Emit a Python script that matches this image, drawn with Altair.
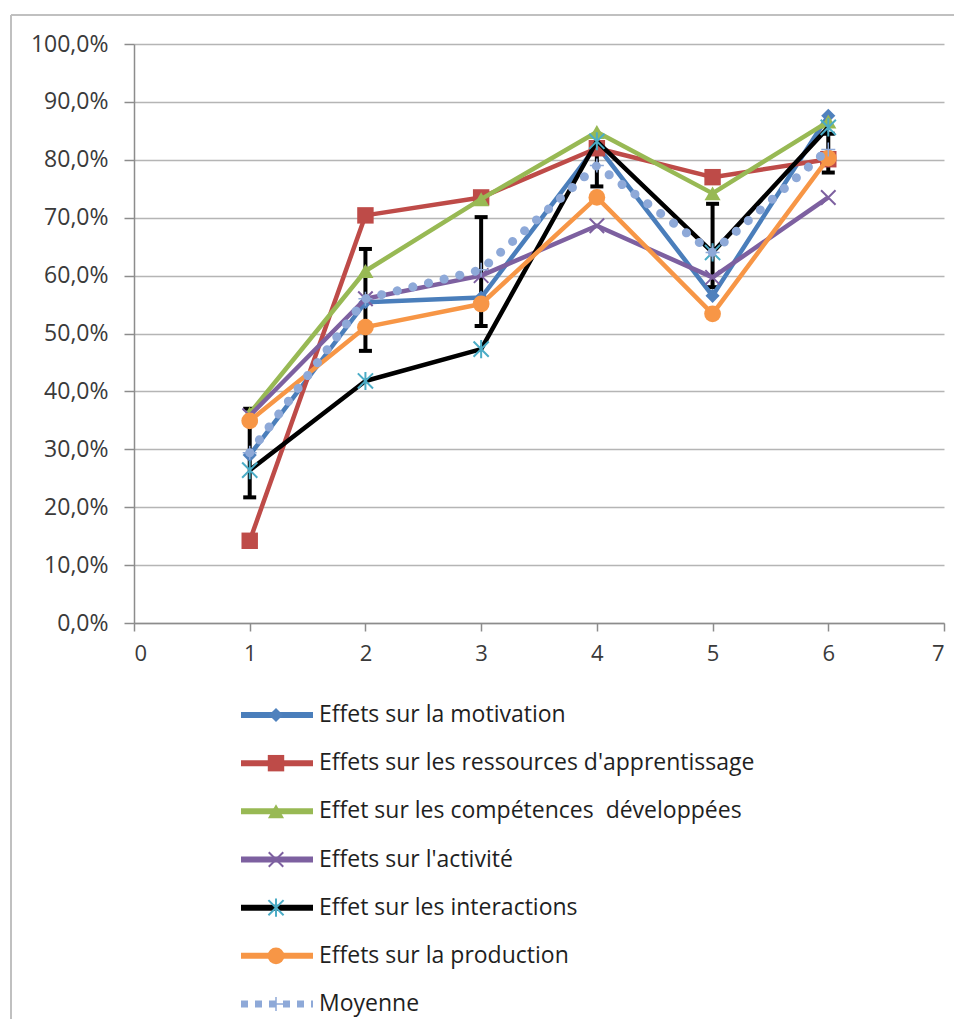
import altair as alt
import pandas as pd

# ---------------- data ----------------
x_vals = [1, 2, 3, 4, 5, 6]

series_names = [
    "Effets sur la motivation",
    "Effets sur les ressources d'apprentissage",
    "Effet sur les compétences\u00a0 développées",
    "Effets sur l'activité",
    "Effet sur les interactions",
    "Effets sur la production",
    "Moyenne",
]

motivation = [29.0, 55.4, 56.2, 82.5, 56.5, 87.6]
ressources = [14.2, 70.4, 73.5, 82.0, 77.0, 80.1]
competences = [36.2, 60.8, 73.2, 84.8, 74.2, 86.6]
activite = [35.8, 56.0, 60.0, 68.6, 59.7, 73.5]
interactions = [26.4, 41.8, 47.3, 83.2, 64.0, 85.6]
production = [34.9, 51.1, 55.1, 73.5, 53.4, 80.3]
moyenne = [29.4, 56.0, 61.0, 79.0, 64.0, 81.8]

err_low = [21.7, 47.0, 51.3, 75.4, 58.0, 77.8]
err_high = [37.0, 64.6, 70.1, 82.6, 72.4, 84.5]

y_ticks = [0, 10, 20, 30, 40, 50, 60, 70, 80, 90, 100]
x_ticks = [0, 1, 2, 3, 4, 5, 6, 7]

# ---------------- styles ----------------
FONT = "Open Sans"
X_PATH = "M-1,-1L1,1M-1,1L1,-1"
AST_PATH = "M-1,-1L1,1M-1,1L1,-1M0,-1.2L0,1.2"
PLUS_PATH = "M-1,0L1,0M0,-1L0,1"

styles = [
    dict(line="#4A7EBB", mk="#4F81BD", shape="diamond", filled=True, size=200, sw=0),
    dict(line="#BE4B48", mk="#BE4B48", shape="square", filled=True, size=270, sw=0),
    dict(line="#98B954", mk="#98B954", shape="triangle-up", filled=True, size=260, sw=0),
    dict(line="#7D60A0", mk="#7D60A0", shape=X_PATH, filled=False, size=210, sw=2),
    dict(line="#000000", mk="#4BACC6", shape=AST_PATH, filled=False, size=230, sw=2),
    dict(line="#F79646", mk="#F79646", shape="circle", filled=True, size=280, sw=0),
    dict(line="#8EA9D8", mk="#8EA9D8", shape=PLUS_PATH, filled=False, size=196, sw=1.5),
]

values_list = [motivation, ressources, competences, activite, interactions, production, moyenne]

W, H = 810, 579

x_enc_args = dict(
    scale=alt.Scale(domain=[0, 7], nice=False, zero=False),
    axis=alt.Axis(
        values=x_ticks, format="d", grid=False, title=None,
        tickSize=8, tickWidth=1.5, tickColor="#8C8C8C",
        domainColor="#8C8C8C", domainWidth=1.5,
        labelFont=FONT, labelFontSize=22, labelColor="#3A3A3A",
        labelPadding=12,
    ),
)
y_axis = alt.Axis(
    values=y_ticks, grid=True, title=None,
    labelExpr="replace(format(datum.value, '.1f'), '.', ',') + '%'",
    gridColor="#B5B5B5", gridWidth=1.5,
    tickSize=10, tickWidth=1.5, tickColor="#8C8C8C",
    domainColor="#8C8C8C", domainWidth=1.5,
    labelFont=FONT, labelFontSize=23, labelColor="#3A3A3A",
    labelPadding=16,
)
y_scale = alt.Scale(domain=[0, 100], nice=False, zero=True)

main_layers = []

# error bars (drawn first, under the series)
err_df = pd.DataFrame({"x": x_vals, "lo": err_low, "hi": err_high})
main_layers.append(
    alt.Chart(err_df).mark_rule(color="#000000", strokeWidth=4).encode(
        x=alt.X("x:Q", **x_enc_args),
        y=alt.Y("lo:Q", scale=y_scale, axis=y_axis),
        y2="hi:Q",
    )
)
for fld in ["lo", "hi"]:
    main_layers.append(
        alt.Chart(err_df).mark_tick(orient="horizontal", color="#000000",
                                     thickness=4, size=13, opacity=1).encode(
            x=alt.X("x:Q", **x_enc_args),
            y=alt.Y(f"{fld}:Q", scale=y_scale, axis=y_axis),
        )
    )

for name, vals, st in zip(series_names, values_list, styles):
    df = pd.DataFrame({"x": x_vals, "y": vals, "serie": name})
    if name == "Moyenne":
        line = alt.Chart(df).mark_line(color=st["line"], strokeWidth=9,
                                       strokeDash=[0.1, 16], strokeCap="round")
    else:
        line = alt.Chart(df).mark_line(color=st["line"], strokeWidth=4.5,
                                       strokeJoin="round")
    main_layers.append(line.encode(
        x=alt.X("x:Q", **x_enc_args),
        y=alt.Y("y:Q", scale=y_scale, axis=y_axis),
    ))
    if st["filled"]:
        pt = alt.Chart(df).mark_point(shape=st["shape"], filled=True, color=st["mk"],
                                      size=st["size"], opacity=1, strokeWidth=0)
    else:
        pt = alt.Chart(df).mark_point(shape=st["shape"], filled=False, color=st["mk"],
                                      size=st["size"], opacity=1, strokeWidth=st["sw"])
    main_layers.append(pt.encode(
        x=alt.X("x:Q", **x_enc_args),
        y=alt.Y("y:Q", scale=y_scale, axis=y_axis),
    ))

main = alt.layer(*main_layers)

# ---------------- legend (drawn below the plot) ----------------
leg_scale = alt.Scale(domain=[0, 6], range=[671, 960], nice=False, zero=False)
leg_df = pd.DataFrame({"idx": list(range(len(series_names))), "name": series_names})

legend_layers = []
for i, st in enumerate(styles):
    row = leg_df.iloc[[i]]
    if series_names[i] == "Moyenne":
        lmark = alt.Chart(row).mark_rule(color=st["line"], strokeWidth=7,
                                         strokeDash=[7, 7])
    else:
        lmark = alt.Chart(row).mark_rule(color=st["line"], strokeWidth=6)
    legend_layers.append(lmark.encode(
        x=alt.value(107), x2=alt.value(179),
        y=alt.Y("idx:Q", scale=leg_scale, axis=None),
    ))
    if st["filled"]:
        pm = alt.Chart(row).mark_point(shape=st["shape"], filled=True, color=st["mk"],
                                       size=st["size"], opacity=1, strokeWidth=0)
    else:
        pm = alt.Chart(row).mark_point(shape=st["shape"], filled=False, color=st["mk"],
                                       size=st["size"], opacity=1, strokeWidth=st["sw"])
    legend_layers.append(pm.encode(
        x=alt.value(142),
        y=alt.Y("idx:Q", scale=leg_scale, axis=None),
    ))

legend_layers.append(
    alt.Chart(leg_df).mark_text(align="left", baseline="middle", font=FONT,
                                fontSize=23, color="#1F1F1F").encode(
        x=alt.value(185),
        y=alt.Y("idx:Q", scale=leg_scale, axis=None),
        text="name:N",
    )
)

# outer frame (left and top edges)
frame_df = pd.DataFrame({"k": [0]})
legend_layers.append(
    alt.Chart(frame_df).mark_rule(color="#C0C0C0", strokeWidth=2).encode(
        x=alt.value(-123), y=alt.value(-29), y2=alt.value(975)
    )
)
legend_layers.append(
    alt.Chart(frame_df).mark_rule(color="#C0C0C0", strokeWidth=2).encode(
        x=alt.value(-123), x2=alt.value(820), y=alt.value(-29)
    )
)

legend = alt.layer(*legend_layers)

chart = (
    alt.layer(main, legend)
    .resolve_scale(y="independent")
    .properties(width=W, height=H,
                padding={"left": 2, "top": 6, "right": 0, "bottom": 2},
                background="white")
    .configure_view(stroke=None)
)

chart.save("out.html", embed_options={"renderer": "svg", "actions": False})
